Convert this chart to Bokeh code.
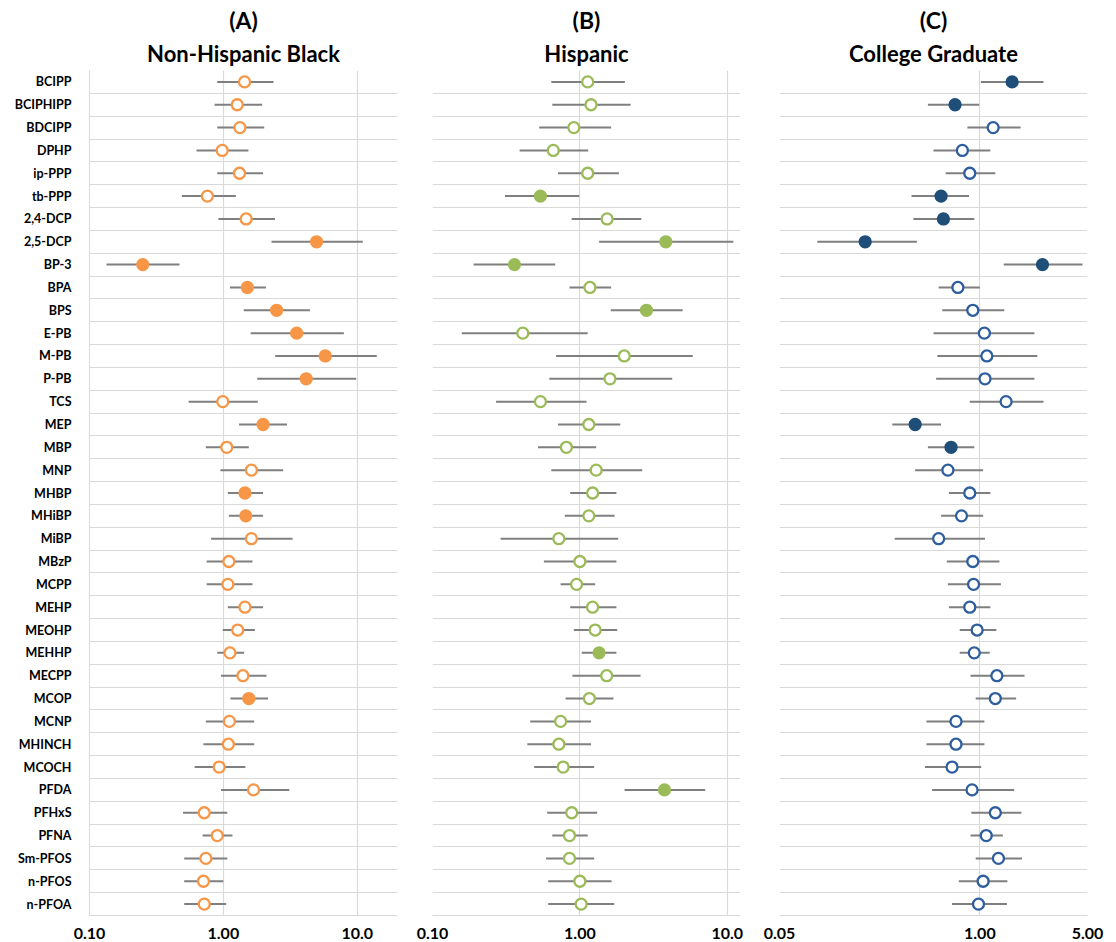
from bokeh.plotting import figure
from bokeh.layouts import row
from bokeh.models import ColumnDataSource, Range1d, FixedTicker, Title
from bokeh.embed import file_html
from bokeh.resources import INLINE

categories = ["BCIPP", "BCIPHIPP", "BDCIPP", "DPHP", "ip-PPP", "tb-PPP", "2,4-DCP", "2,5-DCP",
              "BP-3", "BPA", "BPS", "E-PB", "M-PB", "P-PB", "TCS", "MEP", "MBP", "MNP", "MHBP",
              "MHiBP", "MiBP", "MBzP", "MCPP", "MEHP", "MEOHP", "MEHHP", "MECPP", "MCOP", "MCNP",
              "MHINCH", "MCOCH", "PFDA", "PFHxS", "PFNA", "Sm-PFOS", "n-PFOS", "n-PFOA"]

# (A) Non-Hispanic Black
a_est = [1.44, 1.27, 1.33, 0.98, 1.32, 0.76, 1.48, 4.97, 0.25, 1.51, 2.50, 3.53, 5.77, 4.16, 0.99,
         1.98, 1.06, 1.62, 1.45, 1.47, 1.62, 1.10, 1.08, 1.45, 1.28, 1.12, 1.40, 1.55, 1.11, 1.09,
         0.93, 1.68, 0.72, 0.90, 0.74, 0.71, 0.72]
a_lo = [0.90, 0.86, 0.90, 0.63, 0.90, 0.49, 0.92, 2.29, 0.134, 1.12, 1.42, 1.60, 2.44, 1.79, 0.55,
        1.31, 0.74, 0.95, 1.08, 1.10, 0.81, 0.75, 0.75, 1.08, 0.99, 0.90, 0.96, 1.13, 0.74, 0.71,
        0.61, 0.96, 0.50, 0.70, 0.51, 0.51, 0.51]
a_hi = [2.37, 1.95, 2.02, 1.54, 1.98, 1.24, 2.43, 11.0, 0.47, 2.08, 4.43, 7.95, 14.0, 9.83, 1.81,
        2.99, 1.55, 2.80, 1.98, 1.98, 3.29, 1.65, 1.65, 1.98, 1.72, 1.43, 2.10, 2.16, 1.70, 1.70,
        1.46, 3.11, 1.07, 1.17, 1.07, 1.00, 1.05]
a_sig = [0, 0, 0, 0, 0, 0, 0, 1, 1, 1, 1, 1, 1, 1, 0, 1, 0, 0, 1, 1, 0, 0, 0, 0, 0, 0, 0, 1, 0, 0,
         0, 0, 0, 0, 0, 0, 0]

# (B) Hispanic
b_est = [1.13, 1.19, 0.91, 0.66, 1.13, 0.54, 1.53, 3.83, 0.36, 1.17, 2.83, 0.41, 2.00, 1.60, 0.54,
         1.15, 0.81, 1.29, 1.22, 1.15, 0.72, 1.00, 0.95, 1.22, 1.27, 1.35, 1.52, 1.16, 0.74, 0.72,
         0.77, 3.75, 0.88, 0.85, 0.85, 1.00, 1.02]
b_lo = [0.64, 0.65, 0.53, 0.39, 0.71, 0.31, 0.88, 1.35, 0.19, 0.85, 1.62, 0.158, 0.69, 0.62, 0.27,
        0.71, 0.52, 0.64, 0.86, 0.79, 0.29, 0.57, 0.74, 0.86, 0.91, 1.03, 0.89, 0.80, 0.46, 0.44,
        0.49, 2.01, 0.60, 0.65, 0.59, 0.61, 0.61]
b_hi = [2.02, 2.21, 1.63, 1.14, 1.84, 0.99, 2.61, 11.0, 0.68, 1.63, 4.98, 1.13, 5.83, 4.23, 1.11,
        1.88, 1.29, 2.65, 1.77, 1.72, 1.82, 1.77, 1.27, 1.77, 1.79, 1.77, 2.58, 1.69, 1.19, 1.19,
        1.25, 7.08, 1.31, 1.13, 1.25, 1.64, 1.71]
b_sig = [0, 0, 0, 0, 0, 1, 0, 1, 1, 0, 1, 0, 0, 0, 0, 0, 0, 0, 0, 0, 0, 0, 0, 0, 0, 1, 0, 0, 0, 0,
         0, 1, 0, 0, 0, 0, 0]

# (C) College Graduate
c_est = [1.62, 0.69, 1.22, 0.77, 0.86, 0.56, 0.58, 0.18, 2.55, 0.72, 0.90, 1.07, 1.11, 1.08, 1.48,
         0.38, 0.65, 0.62, 0.86, 0.76, 0.54, 0.90, 0.91, 0.86, 0.96, 0.92, 1.29, 1.26, 0.70, 0.70,
         0.66, 0.89, 1.26, 1.10, 1.32, 1.05, 0.98]
c_lo = [1.015, 0.46, 0.83, 0.50, 0.60, 0.36, 0.37, 0.088, 1.43, 0.54, 0.57, 0.50, 0.53, 0.52, 0.86,
        0.27, 0.46, 0.38, 0.63, 0.56, 0.28, 0.61, 0.62, 0.63, 0.74, 0.74, 0.87, 0.94, 0.45, 0.45,
        0.44, 0.49, 0.88, 0.87, 0.94, 0.73, 0.66]
c_hi = [2.59, 0.99, 1.84, 1.17, 1.26, 0.85, 0.92, 0.39, 4.64, 1.00, 1.44, 2.26, 2.36, 2.26, 2.59,
        0.56, 0.92, 1.05, 1.17, 1.05, 1.08, 1.34, 1.37, 1.17, 1.28, 1.16, 1.95, 1.72, 1.07, 1.07,
        1.02, 1.67, 1.86, 1.41, 1.88, 1.51, 1.50]
c_sig = [1, 1, 0, 0, 0, 1, 1, 1, 1, 0, 0, 0, 0, 0, 0, 1, 1, 0, 0, 0, 0, 0, 0, 0, 0, 0, 0, 0, 0, 0,
         0, 0, 0, 0, 0, 0, 0]

FONT = "Lato"
GRID = "#D9D9D9"
FW, FH = 308, 845


def panel(letter, name, est, lo, hi, sig, fill_col, open_col, xr, ticks, tick_labels, vgrid,
          left, right, show_labels):
    n = len(categories)
    y = list(range(n))
    src = ColumnDataSource(dict(
        y=y, est=est, lo=lo, hi=hi,
        fill=[fill_col if s else "white" for s in sig],
        line=[fill_col if s else open_col for s in sig],
    ))
    p = figure(frame_width=FW, frame_height=FH, x_axis_type="log", x_range=Range1d(*xr),
               y_range=Range1d(n - 0.5, -0.5), output_backend="svg", toolbar_location=None,
               title=None, min_border_left=left, min_border_right=right,
               min_border_top=70, min_border_bottom=25,
               y_axis_location="left" if show_labels else None)
    p.outline_line_color = None
    p.background_fill_color = "white"
    p.border_fill_color = "white"

    p.add_layout(Title(text=name, align="center", text_font=FONT, text_font_size="22px",
                       text_font_style="bold", text_color="black", standoff=8,
                       text_line_height=1.0), "above")
    p.add_layout(Title(text="(" + letter + ")", align="center", text_font=FONT,
                       text_font_size="23px", text_font_style="bold", text_color="black",
                       standoff=0, text_line_height=1.0), "above")

    p.segment("lo", "y", "hi", "y", source=src, line_color="#7F7F7F", line_width=2)
    p.scatter("est", "y", source=src, size=11, fill_color="fill", line_color="line",
              line_width=2.3)

    # x axis
    xa = p.xaxis[0]
    xa.ticker = FixedTicker(ticks=ticks)
    xa.major_label_overrides = {t: l for t, l in zip(ticks, tick_labels)}
    xa.major_tick_line_color = None
    xa.minor_tick_line_color = None
    xa.axis_line_color = GRID
    xa.major_label_text_font = FONT
    xa.major_label_text_font_size = "16px"
    xa.major_label_text_font_style = "bold"
    xa.major_label_text_color = "black"
    xa.major_label_standoff = 6

    # y axis (category names only on the first panel)
    if show_labels:
        ya = p.yaxis[0]
        ya.ticker = FixedTicker(ticks=y)
        ya.major_tick_line_color = None
        ya.minor_tick_line_color = None
        ya.major_label_overrides = {i: c for i, c in enumerate(categories)}
        ya.major_label_text_font = FONT
        ya.major_label_text_font_size = "12.5px"
        ya.major_label_text_font_style = "bold"
        ya.major_label_text_color = "black"
        ya.major_label_standoff = 12
        ya.axis_line_color = GRID

    p.ygrid.ticker = FixedTicker(ticks=[i - 0.5 for i in range(n + 1)])
    p.ygrid.grid_line_color = GRID
    p.ygrid.grid_line_width = 1.2
    p.xgrid.ticker = FixedTicker(ticks=vgrid)
    p.xgrid.grid_line_color = GRID
    p.xgrid.grid_line_width = 1.2
    return p


pA = panel("A", "Non-Hispanic Black", a_est, a_lo, a_hi, a_sig, "#F79646", "#F79646",
           (0.1, 20.0), [0.1, 1.0, 10.0], ["0.10", "1.00", "10.0"], [1.0, 10.0],
           89, 17, True)
pB = panel("B", "Hispanic", b_est, b_lo, b_hi, b_sig, "#9BBB59", "#9BBB59",
           (0.1, 12.3), [0.1, 1.0, 10.0], ["0.10", "1.00", "10.0"], [0.1, 1.0, 10.0],
           18, 18, False)
pC = panel("C", "College Graduate", c_est, c_lo, c_hi, c_sig, "#1F4E79", "#2E5E9E",
           (0.05, 5.0), [0.05, 1.0, 5.0], ["0.05", "1.00", "5.00"], [1.0],
           21, 27, False)

layout = row(pA, pB, pC)
open("out.html", "w").write(file_html(layout, INLINE))
